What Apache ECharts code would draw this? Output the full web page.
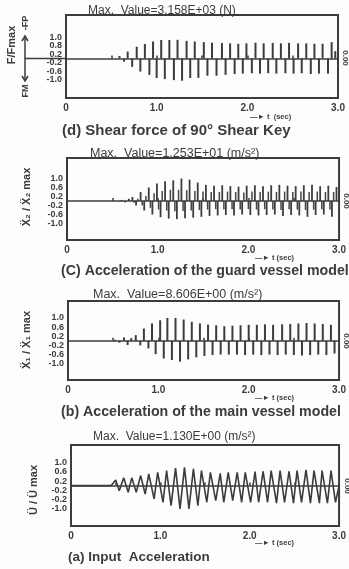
<!DOCTYPE html>
<html>
<head>
<meta charset="utf-8">
<script src="https://cdn.jsdelivr.net/npm/echarts@6/dist/echarts.min.js"></script>
<style>
  html, body { margin: 0; padding: 0; background: #fdfdfc; }
  #chart { width: 349px; height: 569px; }
</style>
</head>
<body>
<div id="chart"></div>
<script>
// time axis tick labels (sec)
const xTickLabels = ['0', '1.0', '2.0', '3.0']
// y tick positions and the labels as printed on each panel
const yTickValues = [1.0, 0.6, 0.2, -0.2, -0.6, -1.0]
const dTickLabels = ['1.0', '0.8', '0.2', '-0.2', '-0.6', '-1.0']
const cTickLabels = ['1.0', '0.6', '0.2', '-0.2', '-0.6', '-1.0']
const bTickLabels = ['1.0', '0.6', '0.2', '-0.2', '-0.6', '-1.0']
const aTickLabels = ['1.0', '0.6', '0.2', '-0.2', '-0.2', '-1.0']

// (d) shear force, normalised spikes [t, F/Fmax]
const dSpikes = [
  [0.59, 0.12], [0.64, -0.15], [0.68, 0.33], [0.73, -0.40], [0.78, 0.56], [0.82, -0.62],
  [0.87, 0.69], [0.92, -0.78], [0.96, 0.81], [1.00, -0.93], [1.05, 0.88], [1.09, -0.98],
  [1.14, 0.88], [1.19, -1.03], [1.23, 0.89], [1.28, -1.06], [1.33, 0.84], [1.37, -0.93],
  [1.42, 0.81], [1.46, -0.92], [1.52, 0.78], [1.56, -0.82], [1.61, 0.75], [1.66, -0.82],
  [1.72, 0.74], [1.76, -0.78], [1.81, 0.72], [1.86, -0.74], [1.90, 0.70], [1.95, -0.72],
  [1.99, 0.72], [2.05, -0.70], [2.09, 0.75], [2.14, -0.72], [2.18, 0.72], [2.23, -0.70],
  [2.28, 0.74], [2.32, -0.72], [2.37, 0.72], [2.42, -0.70], [2.46, 0.74], [2.51, -0.72],
  [2.56, 0.72], [2.60, -0.70], [2.65, 0.72], [2.70, -0.74], [2.74, 0.70], [2.79, -0.72],
  [2.83, 0.70], [2.89, -0.72], [2.93, 0.78], [2.97, 0.35]
]

// (c) guard vessel acceleration [t, X2/X2max]
const cMain = [
  [0.60, 0.05], [0.64, -0.06], [0.68, 0.10],
  [0.72, 0.18], [0.76, -0.20], [0.81, 0.40], [0.85, -0.42], [0.90, 0.60], [0.94, -0.60],
  [0.99, 0.78], [1.03, -0.72], [1.08, 0.88], [1.12, -0.78], [1.17, 0.92], [1.21, -0.80],
  [1.26, 1.00], [1.30, -0.76], [1.35, 0.95], [1.39, -0.74], [1.44, 0.82], [1.48, -0.70],
  [1.53, 0.72], [1.57, -0.66], [1.62, 0.68], [1.66, -0.64], [1.71, 0.70], [1.75, -0.62],
  [1.80, 0.66], [1.84, -0.64], [1.89, 0.64], [1.93, -0.60], [1.98, 0.68], [2.02, -0.62],
  [2.07, 0.70], [2.11, -0.64], [2.16, 0.66], [2.20, -0.62], [2.25, 0.70], [2.29, -0.60],
  [2.34, 0.72], [2.38, -0.66], [2.43, 0.68], [2.47, -0.62], [2.52, 0.66], [2.56, -0.64],
  [2.61, 0.70], [2.65, -0.70], [2.70, 0.72], [2.74, -0.62], [2.79, 0.66], [2.83, -0.60],
  [2.88, 0.68], [2.92, -0.70], [2.97, 0.62]
]
const cMinor = [
  [0.74, -0.08], [0.78, 0.10], [0.83, -0.20], [0.87, 0.22], [0.92, -0.30], [0.96, 0.35],
  [1.01, -0.38], [1.05, 0.45], [1.10, -0.42], [1.14, 0.50], [1.19, -0.45], [1.23, 0.50],
  [1.28, -0.44], [1.32, 0.48], [1.37, -0.42], [1.41, 0.45], [1.46, -0.40], [1.50, 0.42],
  [1.55, -0.38], [1.59, 0.40], [1.64, -0.36], [1.68, 0.40], [1.73, -0.38], [1.77, 0.42],
  [1.82, -0.36], [1.86, 0.40], [1.91, -0.38], [1.95, 0.38], [2.00, -0.36], [2.04, 0.42],
  [2.09, -0.38], [2.13, 0.40], [2.18, -0.36], [2.22, 0.42], [2.27, -0.38], [2.31, 0.40],
  [2.36, -0.40], [2.40, 0.42], [2.45, -0.36], [2.49, 0.40], [2.54, -0.38], [2.58, 0.42],
  [2.63, -0.40], [2.67, 0.40], [2.72, -0.38], [2.76, 0.42], [2.81, -0.36], [2.85, 0.40],
  [2.90, -0.38], [2.94, 0.40]
]

// (b) main vessel acceleration [t, X1/X1max]
const bSpikes = [
  [0.52, 0.05], [0.57, -0.08], [0.62, 0.15], [0.66, -0.18], [0.70, 0.12],
  [0.75, 0.25], [0.80, -0.20], [0.84, 0.54], [0.89, -0.33], [0.93, 0.76], [0.97, -0.58],
  [1.02, 0.90], [1.06, -0.77], [1.10, 1.00], [1.15, -0.84], [1.19, 1.00], [1.24, -0.91],
  [1.28, 0.93], [1.33, -0.81], [1.37, 0.83], [1.42, -0.72], [1.46, 0.76], [1.51, -0.66],
  [1.55, 0.71], [1.60, -0.62], [1.64, 0.68], [1.69, -0.60], [1.73, 0.64], [1.78, -0.60],
  [1.82, 0.66], [1.87, -0.60], [1.91, 0.68], [1.96, -0.62], [2.00, 0.70], [2.05, -0.60],
  [2.09, 0.70], [2.14, -0.62], [2.18, 0.72], [2.23, -0.60], [2.27, 0.70], [2.32, -0.62],
  [2.37, 0.72], [2.41, -0.60], [2.46, 0.74], [2.50, -0.62], [2.55, 0.76], [2.59, -0.64],
  [2.64, 0.78], [2.68, -0.62], [2.73, 0.76], [2.77, -0.60], [2.82, 0.74], [2.86, -0.62],
  [2.91, 0.70], [2.95, -0.55]
]

// (a) input acceleration trace [t, U/Umax]
const aTrace = [
  [0, 0], [0.45, 0], [0.50, 0.25], [0.54, -0.22], [0.59, 0.34], [0.64, -0.29], [0.68, 0.34],
  [0.73, -0.29], [0.78, 0.44], [0.83, -0.37], [0.87, 0.51], [0.93, -0.58], [0.97, 0.58],
  [1.03, -0.73], [1.07, 0.66], [1.12, -0.88], [1.17, 0.77], [1.22, -1.02], [1.27, 0.80],
  [1.32, -1.02], [1.37, 0.73], [1.42, -0.88], [1.46, 0.66], [1.52, -0.73], [1.56, 0.58],
  [1.62, -0.66], [1.67, 0.54], [1.71, -0.73], [1.76, 0.58], [1.81, -0.66], [1.86, 0.58],
  [1.91, -0.73], [1.95, 0.58], [2.01, -0.73], [2.06, 0.61], [2.10, -0.73], [2.15, 0.63],
  [2.20, -0.73], [2.24, 0.66], [2.30, -0.77], [2.34, 0.66], [2.39, -0.73], [2.44, 0.63],
  [2.49, -0.77], [2.53, 0.66], [2.58, -0.73], [2.63, 0.69], [2.68, -0.77], [2.72, 0.66],
  [2.78, -0.77], [2.81, 0.66], [2.87, -0.77], [2.91, 0.66], [2.96, -0.73], [3.0, 0]
]

const ink = '#3c3c3c'
const font = 'Liberation Sans'

// panel boxes, top to bottom: d, c, b, a
const grids = [
  { left: 66, top: 15, width: 272, height: 83, min: -1.88, max: 2.07, labels: dTickLabels },
  { left: 67, top: 158, width: 274, height: 82, min: -1.73, max: 1.91, labels: cTickLabels },
  { left: 68, top: 301, width: 275, height: 79, min: -1.71, max: 1.74, labels: bTickLabels },
  { left: 71, top: 445, width: 271, height: 81, min: -1.77, max: 1.78, labels: aTickLabels }
]

const zeroLine = {
  silent: true, symbol: 'none', label: { show: false },
  lineStyle: { color: ink, width: 1.5, type: 'solid' },
  data: [{ yAxis: 0 }]
}

const txt = (x, y, text, size, opt = {}) => ({
  type: 'text', x, y, rotation: opt.rot || 0, silent: true,
  style: {
    text, fill: ink, font: `${opt.weight || 'bold'} ${size}px "${font}"`,
    textAlign: opt.align || 'left', textVerticalAlign: 'middle', verticalAlign: 'middle'
  }
})
const seg = (points, w = 1.5) => ({
  type: 'polyline', silent: true, shape: { points }, style: { stroke: ink, lineWidth: w, fill: null }
})

// the tick labels are packed tightly, so every panel gets two label axes
// (alternate ticks) that share one scale and never overlap each other
const yAxisFor = (g, i, part) => ({
  type: 'value', gridIndex: i, min: g.min, max: g.max, position: 'left', offset: 0,
  axisLine: { show: false }, axisTick: { show: false }, splitLine: { show: false },
  axisLabel: {
    customValues: yTickValues.filter((v, j) => j % 2 === part),
    hideOverlap: false, showMinLabel: true, showMaxLabel: true,
    margin: 4, color: ink, fontSize: 9, fontWeight: 'bold', fontFamily: font,
    formatter: v => {
      let k = 0
      yTickValues.forEach((t, j) => { if (Math.abs(t - v) < Math.abs(yTickValues[k] - v)) k = j })
      return g.labels[k]
    }
  }
})

const myChart = echarts.init(document.getElementById('chart'))
const option = {
  animation: false,
  backgroundColor: '#fdfdfc',
  grid: grids.map(g => ({
    left: g.left, top: g.top, width: g.width, height: g.height,
    show: true, borderColor: ink, borderWidth: 2, backgroundColor: 'transparent'
  })),
  xAxis: grids.map((g, i) => ({
    type: 'value', gridIndex: i, min: 0, max: 3, interval: 0.5,
    axisLine: { show: false },
    axisTick: { show: true, inside: true, length: 3, lineStyle: { color: ink, width: 1.5 } },
    splitLine: { show: false },
    axisLabel: {
      margin: 5, color: ink, fontSize: 10, fontWeight: 'bold', fontFamily: font,
      showMinLabel: true, showMaxLabel: true,
      formatter: v => (Math.abs(v - Math.round(v)) < 1e-6 ? xTickLabels[Math.round(v)] : '')
    }
  })),
  yAxis: grids.flatMap((g, i) => [yAxisFor(g, i, 0), yAxisFor(g, i, 1)]),
  series: [
    { type: 'bar', xAxisIndex: 0, yAxisIndex: 0, data: dSpikes, barWidth: 2, itemStyle: { color: ink }, markLine: zeroLine },
    { type: 'bar', xAxisIndex: 1, yAxisIndex: 2, data: cMain, barWidth: 1.8, itemStyle: { color: ink }, markLine: zeroLine },
    { type: 'bar', xAxisIndex: 1, yAxisIndex: 2, data: cMinor, barWidth: 1.5, barGap: '-100%', itemStyle: { color: '#444' } },
    { type: 'bar', xAxisIndex: 2, yAxisIndex: 4, data: bSpikes, barWidth: 2, itemStyle: { color: ink }, markLine: zeroLine },
    {
      type: 'line', xAxisIndex: 3, yAxisIndex: 6, data: aTrace, symbol: 'none',
      lineStyle: { color: ink, width: 1.6 }, markLine: zeroLine
    }
  ],
  graphic: [
    // (d)
    txt(88, 11, 'Max.  Value=3.158E+03 (N)', 12, { weight: 'normal' }),
    txt(12, 45, 'F/Fmax', 11, { rot: Math.PI / 2, align: 'center' }),
    txt(26, 23, '-FP', 9, { rot: Math.PI / 2, align: 'center' }),
    txt(26, 91, 'FM', 9, { rot: Math.PI / 2, align: 'center' }),
    seg([[25, 36], [25, 81]]),
    seg([[22, 41], [25, 36], [28, 41]]),
    seg([[22, 76], [25, 81], [28, 76]]),
    seg([[25, 58.5], [66, 58.5]]),
    txt(345, 58, '0.00', 8, { rot: -Math.PI / 2, align: 'center' }),
    txt(250, 117, '—► t  (sec)', 7.5),
    txt(62, 131, '(d) Shear force of 90° Shear Key', 15),
    // (c)
    txt(90, 154, 'Max.  Value=1.253E+01 (m/s²)', 12.5, { weight: 'normal' }),
    txt(27, 197, 'Ẍ₂ / Ẍ₂ max', 11, { rot: Math.PI / 2, align: 'center' }),
    txt(346, 201, '0.00', 8, { rot: -Math.PI / 2, align: 'center' }),
    txt(255, 258, '—► t (sec)', 7.5),
    txt(61, 271, '(C) Acceleration of the guard vessel model', 14.2),
    // (b)
    txt(93, 295, 'Max.  Value=8.606E+00 (m/s²)', 12.5, { weight: 'normal' }),
    txt(27, 340, 'Ẍ₁ / Ẍ₁ max', 11, { rot: Math.PI / 2, align: 'center' }),
    txt(346, 341, '0.00', 8, { rot: -Math.PI / 2, align: 'center' }),
    txt(255, 398, '—► t (sec)', 7.5),
    txt(61, 412, '(b) Acceleration of the main vessel model', 14.2),
    // (a)
    txt(93, 437, 'Max.  Value=1.130E+00 (m/s²)', 12, { weight: 'normal' }),
    txt(34, 490, 'Ü / Ü max', 11, { rot: Math.PI / 2, align: 'center' }),
    txt(347, 486, '0.00', 8, { rot: -Math.PI / 2, align: 'center' }),
    txt(255, 543, '—► t (sec)', 7.5),
    txt(68, 557, '(a) Input  Acceleration', 13.5)
  ]
}
myChart.setOption(option)
</script>
</body>
</html>
